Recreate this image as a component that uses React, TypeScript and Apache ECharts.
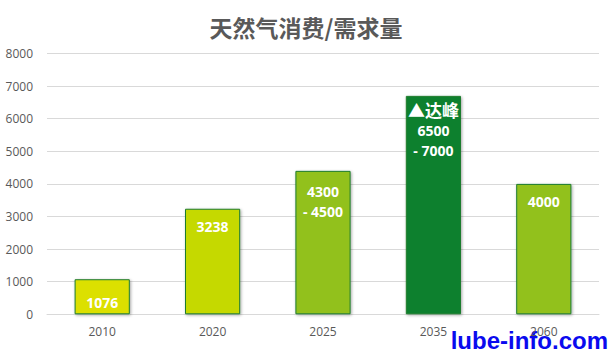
import React, { useEffect, useRef } from "react";
import * as echarts from "echarts";

const categories = ["2010", "2020", "2025", "2035", "2060"];
const values = [1076, 3238, 4400, 6700, 4000];
const labelTexts = ["1076", "3238", "4300\n- 4500", "{peak|▲达峰}\n6500\n- 7000", "4000"];
const barColors = ["#dce000", "#c5d900", "#92c11e", "#0e802d", "#92c11e"];
const labelDistances = [13, 8, 11, 3, 8];
const yTicks = { min: 0, max: 8000, interval: 1000 };
const titleText = "天然气消费/需求量";
const watermark = "lube-info.com";

export default function App() {
  const ref = useRef<HTMLDivElement>(null);
  useEffect(() => {
    if (!ref.current) return;
    const chart = echarts.init(ref.current, undefined, { renderer: "svg" });
    chart.setOption({
      animation: false,
      title: {
        text: titleText,
        left: "center",
        top: 10,
        textStyle: {
          fontFamily: "'Noto Sans CJK SC', serif",
          fontWeight: "bold",
          fontSize: 23,
          color: "#595959",
        },
      },
      grid: { left: 47, right: 13, top: 53.5, bottom: 37.7, containLabel: false },
      xAxis: {
        type: "category",
        data: categories,
        axisTick: { show: false },
        axisLine: { lineStyle: { color: "#d9d9d9" } },
        axisLabel: { color: "#595959", fontSize: 12, margin: 11, fontFamily: "'Open Sans', sans-serif" },
      },
      yAxis: {
        type: "value",
        min: yTicks.min,
        max: yTicks.max,
        interval: yTicks.interval,
        axisLine: { show: false },
        axisTick: { show: false },
        splitLine: { lineStyle: { color: "#d9d9d9" } },
        axisLabel: {
          color: "#595959",
          fontSize: 12,
          margin: 14,
          fontFamily: "'Open Sans', sans-serif",
          formatter: (v: number) => String(v),
        },
      },
      series: [
        {
          type: "bar",
          barWidth: "50%",
          data: values.map((v, i) => ({
            value: v,
            itemStyle: {
              color: barColors[i],
              borderColor: "#1e7d2e",
              borderWidth: 1,
              shadowColor: "rgba(0,0,0,0.35)",
              shadowBlur: 3,
              shadowOffsetX: 1,
              shadowOffsetY: 1,
            },
            label: {
              show: true,
              position: "insideTop",
              distance: labelDistances[i],
              formatter: labelTexts[i],
              color: "#ffffff",
              fontWeight: "bold",
              fontSize: 14,
              lineHeight: 20,
              fontFamily: "'Open Sans', sans-serif",
              rich: {
                peak: {
                  fontSize: 17,
                  fontWeight: "bold",
                  color: "#ffffff",
                  lineHeight: 22,
                  fontFamily: "'Noto Sans CJK SC', sans-serif",
                },
              },
            },
          })),
        },
      ],
      graphic: [
        {
          type: "text",
          right: 4,
          bottom: 0,
          style: {
            text: watermark,
            fill: "#0a0aee",
            font: "bold 24px 'Liberation Sans', Arial, sans-serif",
          },
        },
      ],
    });
    return () => chart.dispose();
  }, []);
  return <div ref={ref} style={{ width: 612, height: 352, position: "absolute", left: 0, top: 0 }} />;
}
